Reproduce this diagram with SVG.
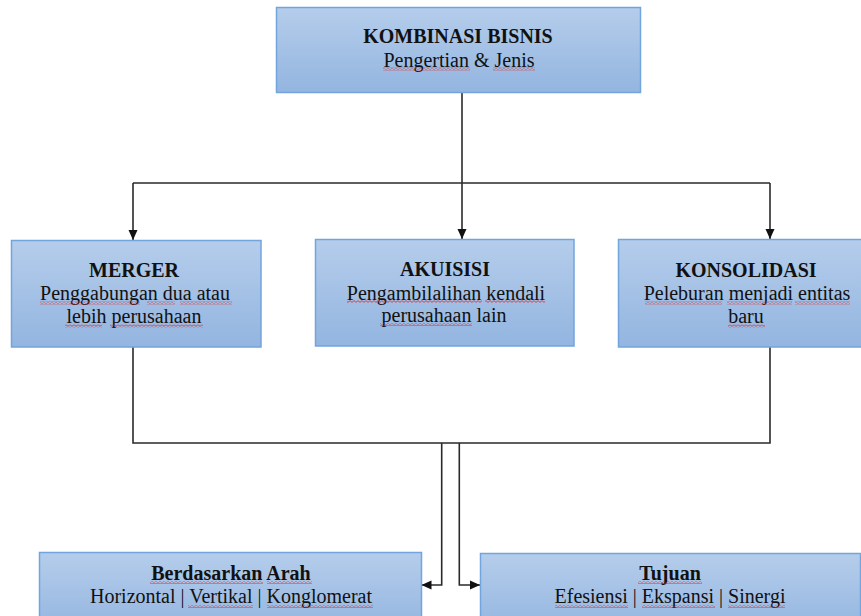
<svg xmlns="http://www.w3.org/2000/svg" width="861" height="616" viewBox="0 0 861 616">
<style>
.box{fill:url(#g);stroke:#72a4dd;stroke-width:1.5}
.t{font-family:"Liberation Serif","Times New Roman",serif;font-size:20px;fill:#111;text-anchor:middle}
.b{font-weight:bold}
.c{fill:none;stroke:#2a2a2a;stroke-width:1.6}
.sq{fill:url(#w)}
</style>
<defs>
<linearGradient id="g" x1="0" y1="0" x2="0" y2="1">
<stop offset="0" stop-color="#b5cdeb"/>
<stop offset="1" stop-color="#93b5e0"/>
</linearGradient>
<pattern id="w" patternUnits="userSpaceOnUse" width="4" height="3">
<path d="M0,2.4 L2,0.6 L4,2.4" fill="none" stroke="#e02020" stroke-width="0.8"/>
</pattern>
<marker id="a" markerUnits="userSpaceOnUse" markerWidth="10" markerHeight="10" viewBox="0 0 10 10" refX="10" refY="5" orient="auto">
<path d="M0,0.5 L10,5 L0,9.5 Z" fill="#111"/>
</marker>
</defs>

<g id="connectors">
<path class="c" d="M462,92 V183"/>
<path class="c" d="M133,183 H770"/>
<path class="c" d="M133,183 V240" marker-end="url(#a)"/>
<path class="c" d="M462,183 V239" marker-end="url(#a)"/>
<path class="c" d="M770,183 V239" marker-end="url(#a)"/>
<path class="c" d="M133,347 V443 H770 V347"/>
<path class="c" d="M441.7,443 V585 H421.5" marker-end="url(#a)"/>
<path class="c" d="M459.3,443 V585 H480" marker-end="url(#a)"/>
</g>

<g id="kombinasi">
<rect class="box" x="276.5" y="7.5" width="364" height="85"/>
<text class="t b" x="458" y="43.3">KOMBINASI BISNIS</text>
<text class="t" x="459" y="66.5">Pengertian &amp; Jenis</text>
<rect class="sq" x="383" y="67.5" width="87" height="3"/>
<rect class="sq" x="493" y="67.5" width="42" height="3"/>
</g>

<g id="merger">
<rect class="box" x="11.5" y="240.5" width="249.5" height="106.5"/>
<text class="t b" x="134" y="276.7">MERGER</text>
<text class="t" x="135" y="300">Penggabungan dua atau</text>
<text class="t" x="134" y="323">lebih perusahaan</text>
<rect class="sq" x="40" y="301.5" width="100" height="3"/>
<rect class="sq" x="147" y="301.5" width="28" height="3"/>
<rect class="sq" x="180" y="301.5" width="52" height="3"/>
<rect class="sq" x="65" y="324.5" width="37" height="3"/>
<rect class="sq" x="110" y="324.5" width="93" height="3"/>
</g>

<g id="akuisisi">
<rect class="box" x="315.5" y="239.5" width="258.5" height="106.5"/>
<text class="t b" x="445" y="275.5">AKUISISI</text>
<text class="t" x="446" y="299.5">Pengambilalihan kendali</text>
<text class="t" x="444" y="322">perusahaan lain</text>
<rect class="sq" x="347" y="300" width="135" height="3"/>
<rect class="sq" x="485" y="300" width="60" height="3"/>
<rect class="sq" x="380" y="323" width="92" height="3"/>
</g>

<g id="konsolidasi">
<rect class="box" x="618.5" y="239.5" width="256" height="107.5"/>
<text class="t b" x="746" y="276.7">KONSOLIDASI</text>
<text class="t" x="747" y="300">Peleburan menjadi entitas</text>
<text class="t" x="746" y="323">baru</text>
<rect class="sq" x="645" y="301.5" width="77" height="3"/>
<rect class="sq" x="727" y="301.5" width="65" height="3"/>
<rect class="sq" x="795" y="301.5" width="55" height="3"/>
<rect class="sq" x="728" y="324.5" width="37" height="3"/>
</g>

<g id="arah">
<rect class="box" x="39.5" y="552.5" width="382" height="80"/>
<text class="t b" x="231" y="580">Berdasarkan Arah</text>
<text class="t" x="231" y="603">Horizontal | Vertikal | Konglomerat</text>
<rect class="sq" x="150" y="581" width="113" height="3"/>
<rect class="sq" x="267" y="581" width="45" height="3"/>
<rect class="sq" x="188" y="605" width="65" height="3"/>
<rect class="sq" x="267" y="605" width="106" height="3"/>
</g>

<g id="tujuan">
<rect class="box" x="480.5" y="553.5" width="380" height="80"/>
<text class="t b" x="670" y="580">Tujuan</text>
<text class="t" x="670" y="603">Efesiensi | Ekspansi | Sinergi</text>
<rect class="sq" x="638" y="581" width="64" height="3"/>
<rect class="sq" x="555" y="605" width="73" height="3"/>
<rect class="sq" x="642" y="605" width="73" height="3"/>
<rect class="sq" x="728" y="605" width="57" height="3"/>
</g>
</svg>
